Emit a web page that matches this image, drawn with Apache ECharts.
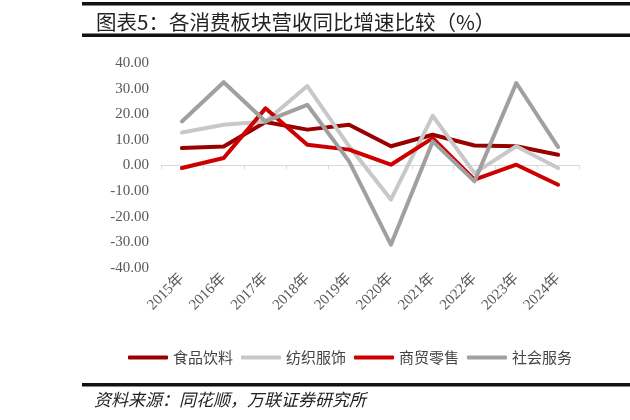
<!DOCTYPE html>
<html>
<head>
<meta charset="utf-8">
<script src="https://cdn.jsdelivr.net/npm/echarts@6/dist/echarts.min.js"></script>
<style>
  html, body { margin: 0; padding: 0; background: #fff; }
  #chart { width: 630px; height: 420px; }
</style>
</head>
<body>
<div id="chart"></div>
<script>
// 年份与各板块营收同比增速（%）
const years = ['2015年', '2016年', '2017年', '2018年', '2019年', '2020年', '2021年', '2022年', '2023年', '2024年']
const food = [6.8, 7.4, 17.0, 14.0, 15.9, 7.5, 12.0, 7.8, 7.5, 4.2]
const textile = [12.9, 15.9, 17.2, 31.0, 7.5, -13.3, 19.4, -3.0, 7.5, -1.0]
const retail = [-1.0, 2.9, 22.3, 8.1, 6.2, 0.3, 10.7, -5.5, 0.3, -7.5]
const service = [17.2, 32.5, 17.2, 23.7, 1.6, -30.9, 9.4, -6.2, 32.2, 7.2]

const serif = '"Liberation Serif", "Noto Sans CJK SC", serif'
const cjk = '"Noto Sans CJK SC", sans-serif'

const chart = echarts.init(document.getElementById('chart'), undefined, { renderer: 'canvas' })

const mk = (name, data, color) => ({
  name,
  type: 'line',
  data,
  symbol: 'none',
  lineStyle: { width: 4, color, cap: 'round', join: 'round' },
  itemStyle: { color },
})

chart.setOption({
  animation: false,
  title: {
    text: '图表5：各消费板块营收同比增速比较（%）',
    left: 91,
    top: 7,
    textStyle: { fontFamily: cjk, fontSize: 20.5, fontWeight: 'normal', color: '#222' },
  },
  graphic: [
    { type: 'rect', shape: { x: 82, y: 2, width: 548, height: 3.5 }, style: { fill: '#111' } },
    { type: 'rect', shape: { x: 82, y: 33.5, width: 548, height: 3.5 }, style: { fill: '#111' } },
    { type: 'rect', shape: { x: 82, y: 383, width: 548, height: 3.5 }, style: { fill: '#111' } },
    {
      type: 'text',
      left: 94,
      top: 391,
      style: { text: '资料来源：同花顺，万联证券研究所', font: 'italic 17px "Noto Sans CJK SC"', fill: '#222' },
    },
  ],
  legend: {
    top: 345,
    left: 123,
    itemWidth: 40,
    itemHeight: 4,
    itemGap: 8,
    icon: 'roundRect',
    textStyle: { fontFamily: cjk, fontSize: 15, color: '#444' },
    data: ['食品饮料', '纺织服饰', '商贸零售', '社会服务'],
  },
  grid: { left: 161, right: 51, top: 63, bottom: 152 },
  xAxis: {
    type: 'category',
    data: years,
    boundaryGap: true,
    axisLine: { lineStyle: { color: '#d9d9d9', width: 1 } },
    axisTick: { show: true, length: 4, lineStyle: { color: '#d9d9d9' } },
    axisLabel: { rotate: 45, interval: 0, fontFamily: serif, fontSize: 15, color: '#595959', margin: 8 },
  },
  yAxis: {
    type: 'value',
    min: -40,
    max: 40,
    interval: 10,
    axisLine: { show: false },
    axisTick: { show: false },
    splitLine: { show: false },
    axisLabel: {
      fontFamily: serif,
      fontSize: 15,
      color: '#595959',
      margin: 12,
      formatter: (v) => v.toFixed(2),
    },
  },
  series: [
    mk('食品饮料', food, '#990000'),
    mk('纺织服饰', textile, '#c8c8c8'),
    mk('商贸零售', retail, '#cc0000'),
    mk('社会服务', service, '#a0a0a0'),
  ],
})
</script>
</body>
</html>
